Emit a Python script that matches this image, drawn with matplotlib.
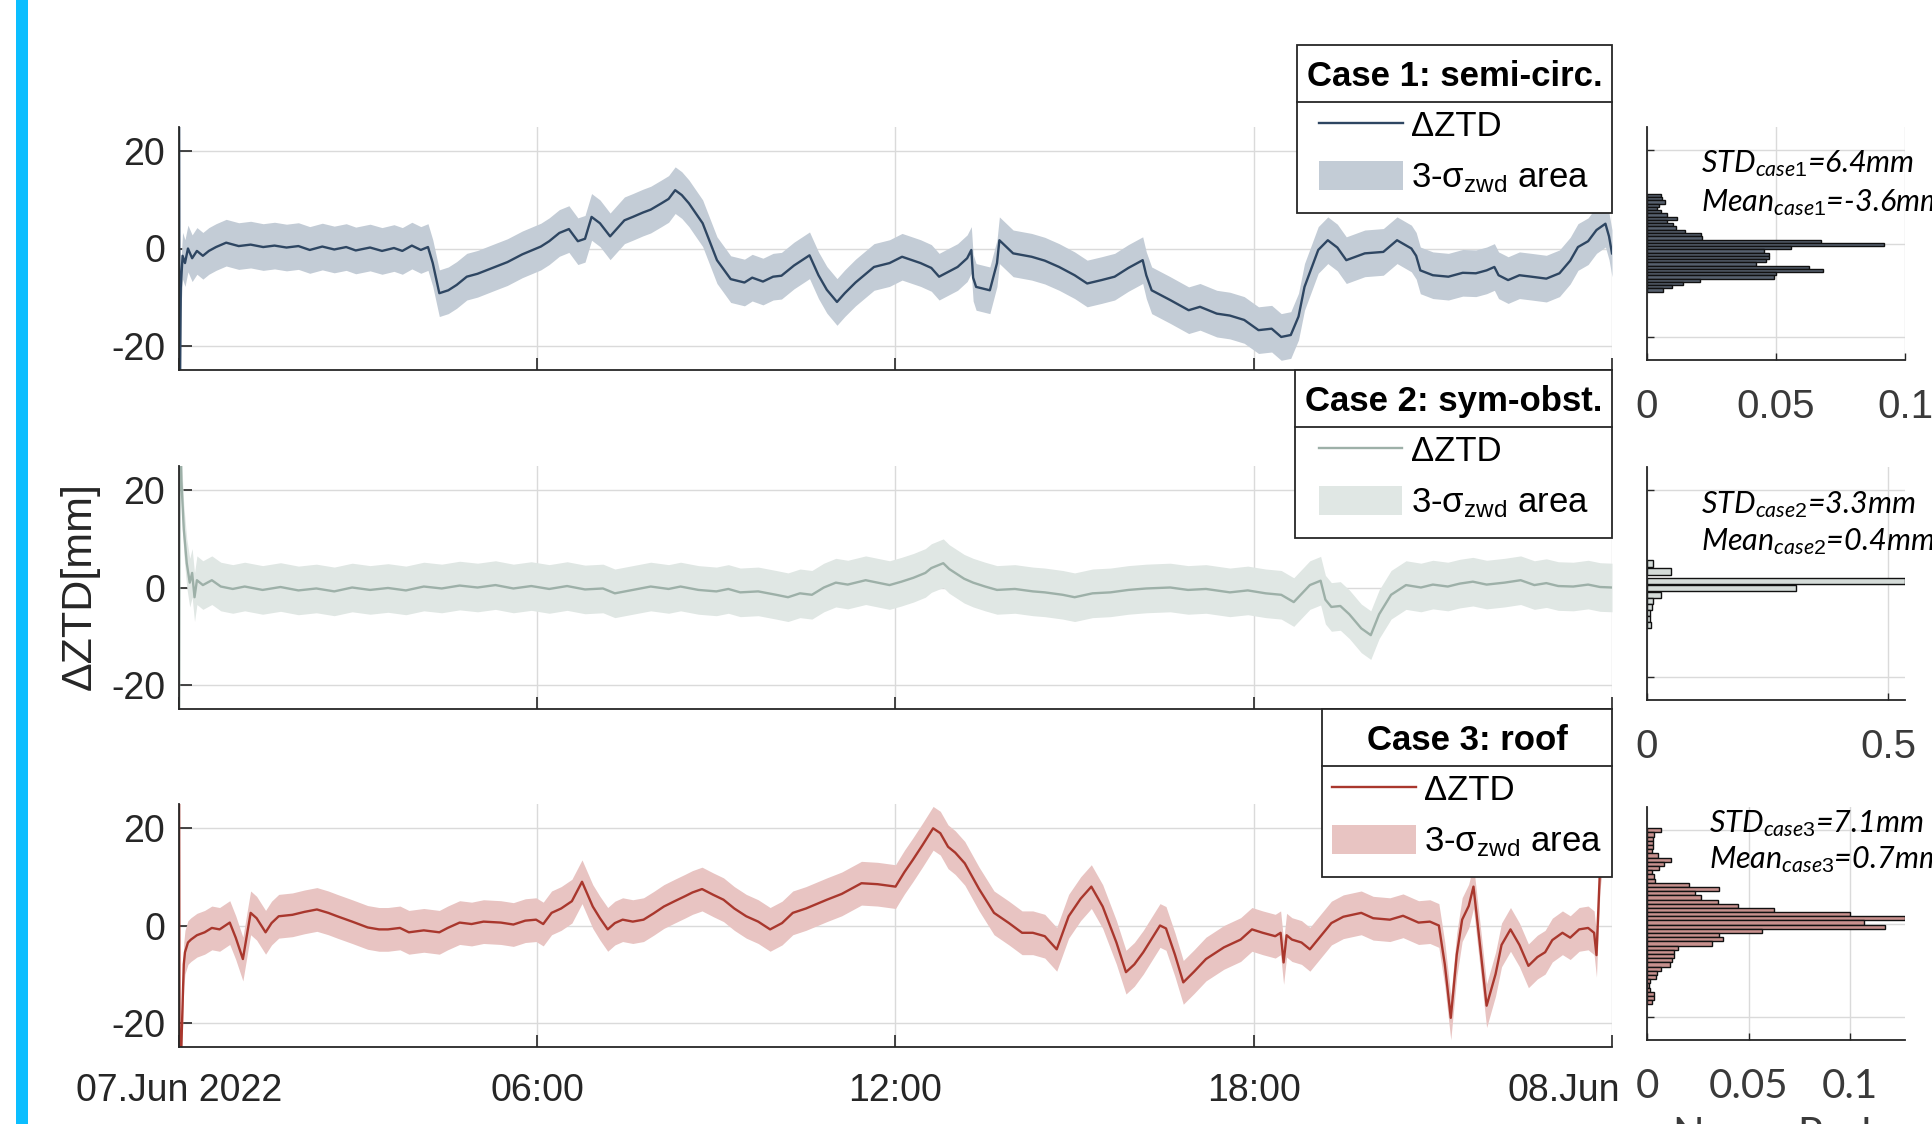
import numpy as np
import matplotlib
matplotlib.use('Agg')
import matplotlib.pyplot as plt
from matplotlib.lines import Line2D
from matplotlib.patches import Rectangle
from matplotlib.transforms import ScaledTranslation

# ---- time series (hours since 07.Jun 2022 00:00, delta ZTD in mm) ----
T1 = [0.0, 0.01, 0.03, 0.06, 0.1, 0.15, 0.22, 0.3, 0.4, 0.5,
      0.62, 0.79, 1.0, 1.2, 1.41, 1.6, 1.8, 2.0, 2.19, 2.4,
      2.6, 2.8, 2.96, 3.2, 3.4, 3.6, 3.74, 3.9, 4.05, 4.17,
      4.25, 4.36, 4.51, 4.65, 4.82, 5.0, 5.29, 5.5, 5.75, 6.06,
      6.2, 6.37, 6.53, 6.68, 6.8, 6.91, 7.05, 7.22, 7.46, 7.6,
      7.77, 7.9, 8.08, 8.2, 8.31, 8.42, 8.54, 8.77, 9.01, 9.24,
      9.47, 9.6, 9.78, 9.95, 10.09, 10.3, 10.56, 10.71, 10.85, 11.02,
      11.15, 11.33, 11.64, 11.9, 12.11, 12.42, 12.6, 12.73, 13.04, 13.2,
      13.27, 13.3, 13.35, 13.58, 13.7, 13.74, 13.97, 14.28, 14.5, 14.74,
      15.0, 15.21, 15.45, 15.67, 15.9, 16.14, 16.2, 16.29, 16.6, 16.91,
      17.1, 17.38, 17.6, 17.84, 18.08, 18.3, 18.46, 18.62, 18.75, 18.85,
      19.08, 19.24, 19.4, 19.55, 19.86, 20.17, 20.4, 20.64, 20.72, 20.79,
      21.0, 21.26, 21.5, 21.72, 21.9, 22.03, 22.1, 22.26, 22.45, 22.65,
      22.9, 23.12, 23.3, 23.43, 23.6, 23.74, 23.89, 23.95, 24.0]
V1 = [40, -40, -8, -1.5, -3, 0, -2, -0.5, -1.5, -0.5,
      0.3, 1.2, 0.5, 0.8, 0.3, 0.6, 0.2, 0.5, -0.3, 0.4,
      -0.2, 0.3, -0.4, 0.2, -0.5, 0.1, -0.5, 0.6, -0.3, 0.3,
      -3, -9.2, -8.6, -7.5, -5.8, -5.2, -3.8, -2.8, -1.2, 0.4,
      1.5, 3.2, 4.0, 1.5, 2.0, 6.5, 5.2, 2.5, 5.8, 6.5,
      7.4, 8.0, 9.3, 10.2, 12.0, 11.0, 9.3, 5.2, -2.4, -6.3,
      -7.0, -6.0, -6.8, -5.8, -5.6, -3.5, -1.4, -5.5, -8.5, -11.0,
      -9.2, -7.0, -3.8, -3.0, -1.7, -3.0, -4.0, -5.8, -3.8, -2.0,
      -0.3, -6.0, -7.9, -8.6, -3.0, 1.7, -1.0, -1.7, -2.5, -3.8,
      -5.5, -7.2, -6.5, -5.8, -4.0, -2.4, -5.5, -8.6, -10.6, -12.7,
      -12.0, -13.4, -13.8, -14.7, -16.8, -16.5, -18.2, -17.8, -14.0, -7.9,
      -0.3, 1.7, 0.2, -2.4, -1.0, -0.7, 1.7, 0.0, -1.5, -4.5,
      -5.5, -5.8, -5.0, -5.1, -4.5, -3.8, -5.5, -6.5, -5.5, -5.8,
      -6.2, -5.1, -2.5, 0.3, 1.5, 3.8, 5.1, 2.5, -1.0]

T2 = [0.0, 0.01, 0.04, 0.08, 0.13, 0.18, 0.22, 0.26, 0.3, 0.4,
      0.55, 0.7, 0.9, 1.1, 1.4, 1.7, 2.0, 2.3, 2.6, 2.9,
      3.2, 3.5, 3.8, 4.1, 4.4, 4.7, 5.0, 5.3, 5.6, 5.9,
      6.2, 6.5, 6.8, 7.1, 7.3, 7.6, 7.9, 8.2, 8.4, 8.7,
      9.0, 9.2, 9.4, 9.7, 10.0, 10.2, 10.4, 10.6, 10.8, 11.0,
      11.2, 11.5, 11.7, 11.9, 12.1, 12.3, 12.5, 12.6, 12.8, 12.9,
      13.0, 13.15, 13.3, 13.5, 13.7, 14.0, 14.3, 14.5, 14.8, 15.0,
      15.3, 15.6, 15.9, 16.2, 16.6, 16.9, 17.2, 17.6, 17.9, 18.2,
      18.46, 18.67, 18.94, 19.12, 19.2, 19.3, 19.45, 19.6, 19.8, 19.96,
      20.1, 20.3, 20.55, 20.8, 21.0, 21.25, 21.45, 21.67, 21.9, 22.2,
      22.47, 22.7, 22.9, 23.1, 23.35, 23.6, 23.8, 24.0]
V2 = [-40, 40, 22, 12, 5, 1, 3, -2, 1.5, 0.5,
      1.5, 0.2, -0.3, 0.2, -0.5, 0.1, -0.6, -0.2, -0.8, 0.0,
      -0.5, -0.1, -0.6, 0.2, -0.2, 0.4, 0.0, 0.5, -0.2, 0.3,
      -0.3, 0.3, -0.4, -0.2, -1.2, -0.5, 0.2, -0.3, 0.2, -0.5,
      -0.8, -0.3, -1.0, -0.8, -1.5, -2.0, -1.2, -1.5, 0.0, 1.0,
      0.6, 1.5, 1.0, 0.5, 1.2, 2.0, 3.0, 4.0, 5.0, 3.8,
      3.0, 1.8, 1.0, 0.2, -0.5, -0.3, -0.8, -1.0, -1.5, -2.0,
      -1.2, -1.0, -0.5, -0.2, 0.0, -0.5, -0.3, -1.0, -0.6, -1.2,
      -1.5, -3.0, 0.5, 1.4, -2.5, -4.0, -3.8, -5.5, -8.4, -9.8,
      -5.5, -1.5, 0.5, 0.0, 0.6, 0.2, 0.8, 1.2, 0.6, 1.0,
      1.5, 0.5, 0.9, 0.3, 0.2, 0.6, 0.1, 0.0]

T3 = [0.0, 0.01, 0.04, 0.08, 0.1, 0.15, 0.2, 0.3, 0.43, 0.55,
      0.68, 0.85, 0.95, 1.07, 1.15, 1.2, 1.3, 1.45, 1.55, 1.67,
      1.9, 2.1, 2.31, 2.5, 2.65, 2.9, 3.16, 3.35, 3.5, 3.7,
      3.85, 4.1, 4.36, 4.5, 4.7, 4.9, 5.1, 5.39, 5.6, 5.8,
      5.98, 6.1, 6.24, 6.4, 6.58, 6.75, 6.93, 7.05, 7.18, 7.3,
      7.43, 7.6, 7.78, 7.95, 8.12, 8.3, 8.47, 8.6, 8.76, 8.95,
      9.12, 9.3, 9.5, 9.7, 9.9, 10.1, 10.28, 10.5, 10.85, 11.1,
      11.43, 11.7, 12.0, 12.15, 12.29, 12.45, 12.63, 12.75, 12.88, 13.0,
      13.16, 13.4, 13.65, 13.9, 14.12, 14.3, 14.5, 14.7, 14.9, 15.1,
      15.28, 15.47, 15.7, 15.86, 16.0, 16.15, 16.43, 16.53, 16.68, 16.82,
      17.0, 17.2, 17.5, 17.78, 17.97, 18.15, 18.36, 18.45, 18.5, 18.55,
      18.64, 18.8, 18.94, 19.1, 19.3, 19.5, 19.8, 20.0, 20.28, 20.5,
      20.76, 20.95, 21.1, 21.2, 21.3, 21.4, 21.49, 21.6, 21.68, 21.78,
      21.9, 22.05, 22.15, 22.3, 22.45, 22.6, 22.75, 22.88, 23.0, 23.17,
      23.3, 23.45, 23.6, 23.7, 23.74, 23.8, 23.9, 24.0]
V3 = [40, -40, -24.6, -8, -5.5, -3.5, -2.9, -2.0, -1.4, -0.5,
      -0.8, 0.6, -2.5, -6.9, -1.0, 2.6, 1.5, -1.4, 0.5, 1.9,
      2.2, 2.8, 3.3, 2.6, 1.9, 0.8, -0.4, -0.8, -0.8, -0.5,
      -1.4, -1.0, -1.4, -0.5, 0.6, 0.3, 0.8, 0.6, 0.2, 1.0,
      1.2, 0.3, 2.6, 3.5, 5.0, 9.0, 3.9, 1.5, -0.8, 0.5,
      1.2, 0.8, 1.2, 2.5, 3.9, 5.0, 6.0, 6.8, 7.5, 6.3,
      5.3, 3.5, 1.9, 0.8, -0.8, 0.5, 2.6, 3.5, 5.3, 6.5,
      8.7, 8.5, 8.0, 11.0, 13.5, 16.5, 20.0, 19.0, 16.2, 15.0,
      12.8, 7.5, 2.6, 0.5, -1.5, -1.5, -2.2, -4.9, 1.9, 5.5,
      8.0, 3.9, -3.5, -9.6, -8.0, -5.5, 0.0, -0.6, -6.0, -11.7,
      -9.5, -6.9, -4.5, -2.9, -0.8, -1.5, -2.2, -1.5, -7.6, -2.0,
      -2.9, -3.5, -4.9, -2.5, 0.5, 1.8, 2.6, 1.5, 1.2, 2.0,
      0.6, 0.8, 0.0, -8.0, -19.0, -6.0, 1.2, 4.0, 8.0, -3.0,
      -16.5, -10.0, -4.0, -0.8, -4.0, -8.3, -6.5, -5.5, -3.0, -1.5,
      -2.5, -0.8, -0.5, -1.5, -6.1, 12.0, 22.0, 30.0]

# 3-sigma half width of the zwd band, per case (mm)
SIG3 = [4.8, 5.0, 4.5]

# ---- histograms (bin centre in mm, normalised probability) ----
H1_CENTERS = [10.3, 9.6, 8.9, 8.2, 7.5, 6.8, 6.1, 5.4, 4.7, 4.0,
              3.3, 2.6, 1.9, 1.2, 0.5, -0.2, -0.9, -1.6, -2.3, -3.0,
              -3.7, -4.4, -5.1, -5.8, -6.5, -7.2, -7.9, -8.6, -9.3, -10.0]
H1_VALUES = [0.0053, 0.0060, 0.0069, 0.0048, 0.0040, 0.0053, 0.0076, 0.0117, 0.0076, 0.0102,
             0.0112, 0.0147, 0.0211, 0.0215, 0.0673, 0.0920, 0.0558, 0.0455, 0.0474, 0.0474,
             0.0461, 0.0423, 0.0628, 0.0682, 0.0500, 0.0493, 0.0204, 0.0140, 0.0095, 0.0063]

H2_CENTERS = [4.3, 2.6, 0.5, -1.0, -2.4, -3.7, -5.0, -6.3, -7.6, -8.9]
H2_VALUES = [0.012, 0.049, 0.535, 0.309, 0.028, 0.013, 0.010, 0.007, 0.006, 0.008]

H3_CENTERS = [20.0, 19.1, 18.2, 17.3, 16.4, 15.5, 14.6, 13.7, 12.8, 11.9,
              11.0, 10.1, 9.2, 8.3, 7.4, 6.5, 5.6, 4.7, 3.8, 2.9,
              2.0, 1.1, 0.2, -0.7, -1.6, -2.5, -3.4, -4.3, -5.2, -6.1,
              -7.0, -7.9, -8.8, -9.7, -10.6, -11.5, -12.4, -13.3, -14.2, -15.1,
              -16.0, -16.9]
H3_VALUES = [0.0069, 0.0033, 0.0029, 0.0029, 0.0029, 0.0024, 0.0052, 0.0118, 0.0085, 0.0057,
             0.0024, 0.0036, 0.0041, 0.0205, 0.0356, 0.0238, 0.0266, 0.0348, 0.0446, 0.0624,
             0.1001, 0.1272, 0.1067, 0.1174, 0.0567, 0.0356, 0.0374, 0.0320, 0.0151, 0.0135,
             0.0131, 0.0123, 0.0115, 0.0069, 0.0049, 0.0046, 0.0013, 0.0008, 0.0016, 0.0033,
             0.0033, 0.0024]

CASE_TITLES = ['Case 1: semi-circ.', 'Case 2: sym-obst.', 'Case 3: roof']
STATS = [('case1', '6.4mm', '-3.6mm'), ('case2', '3.3mm', '0.4mm'), ('case3', '7.1mm', '0.7mm')]
XTICK_HOURS = [0, 6, 12, 18, 24]
XTICK_LABELS = ['07.Jun 2022', '06:00', '12:00', '18:00', '08.Jun']

LINE_COLORS = ['#2e4662', '#9db0a8', '#a9372d']
BAND_COLORS = ['#c3ccd6', '#e0e7e4', '#e8c4c2']
BAR_COLORS = ['#56606e', '#d4dbd8', '#c8918e']

plt.rcParams['font.family'] = ['Liberation Sans', 'DejaVu Sans']
plt.rcParams['axes.unicode_minus'] = False
plt.rcParams['mathtext.fontset'] = 'custom'
plt.rcParams['mathtext.sf'] = 'Liberation Sans'
plt.rcParams['mathtext.rm'] = 'Liberation Sans'
plt.rcParams['mathtext.it'] = 'Lato:italic'

DARK = '#262626'
W, H = 1933, 1124


def fx(px):
    return px / W


def fy(py):
    # pixel row from the top -> figure fraction
    return 1 - py / H


def main():
    fig = plt.figure(figsize=(W / 100, H / 100), dpi=100)
    fig.add_artist(Rectangle((fx(16), 0), fx(12), 1, transform=fig.transFigure,
                             color='#0bbeff', lw=0))

    series = [(T1, V1), (T2, V2), (T3, V3)]
    hists = [(H1_CENTERS, H1_VALUES, 0.7, 0.1, [0, 0.05, 0.1], ['0', '0.05', '0.1']),
             (H2_CENTERS, H2_VALUES, 1.35, 0.535, [0, 0.5], ['0', '0.5']),
             (H3_CENTERS, H3_VALUES, 0.9, 0.127, [0, 0.05, 0.1], ['0', '0.05', '0.1'])]
    tops = [127, 466, 804]
    htops = [127, 467, 807]
    top_pad = 5
    leg_tops = [45 + top_pad, 370 + top_pad, 709 + top_pad]
    stat_pos = [(0.209, 0.807, 0.639), (0.209, 0.803, 0.644), (0.24, 0.893, 0.738)]

    legends = []
    axes = []
    for i in range(3):
        t = np.array(series[i][0])
        v = np.array(series[i][1])
        ax = fig.add_axes([fx(179), fy(tops[i] + 243), fx(1612 - 179), 243 / H])
        band = ax.fill_between(t, v - SIG3[i], v + SIG3[i], color=BAND_COLORS[i], lw=0)
        line, = ax.plot(t, v, color=LINE_COLORS[i], lw=1.7)
        ax.set_xlim(0, 24)
        ax.set_ylim(-25, 25)
        ax.set_yticks([-20, 0, 20])
        ax.set_xticks(XTICK_HOURS)
        ax.grid(True, color='#dadada', lw=1.0)
        ax.set_axisbelow(True)
        for s in ['top', 'right']:
            ax.spines[s].set_visible(False)
        for s in ['left', 'bottom']:
            ax.spines[s].set_color(DARK)
            ax.spines[s].set_linewidth(1.3)
        ax.tick_params(direction='in', length=9, width=1.2, colors=DARK,
                       labelsize=27, pad=10)
        ax.tick_params(axis='x', pad=19)
        if i < 2:
            ax.tick_params(axis='x', labelbottom=False)
        else:
            ax.set_xticklabels(XTICK_LABELS)
            last = ax.get_xticklabels()[-1]
            last.set_ha('right')
            last.set_transform(last.get_transform() +
                               ScaledTranslation(0.08, 0, fig.dpi_scale_trans))

        # frame is drawn by hand below (MATLAB boxed title)
        leg = ax.legend([line, band], ['ΔZTD', '3-σ$_{\\mathsf{zwd}}$ area'],
                        title=CASE_TITLES[i], loc='upper right',
                        bbox_to_anchor=(fx(1612), fy(leg_tops[i])),
                        bbox_transform=fig.transFigure, fontsize=25,
                        title_fontproperties={'weight': 'bold', 'size': 25},
                        frameon=False, borderpad=0.28, labelspacing=0.5,
                        handlelength=2.4, handleheight=0.9, handletextpad=0.25,
                        borderaxespad=0)
        legends.append(leg)
        axes.append(ax)

        # histogram on the right
        centers, vals, hgt, xmax, xt, xtl = hists[i]
        hx = fig.add_axes([fx(1647), fy(htops[i] + 233), fx(1905 - 1647), 233 / H])
        hx.barh(centers, vals, height=hgt, color=BAR_COLORS[i],
                edgecolor='#111111', lw=1.0)
        hx.set_xlim(0, xmax)
        hx.set_ylim(-25, 25)
        hx.set_yticks([-20, 0, 20])
        hx.set_yticklabels([])
        hx.set_xticks(xt)
        hx.grid(True, color='#dadada', lw=1.0)
        hx.set_axisbelow(True)
        for s in ['top', 'right']:
            hx.spines[s].set_visible(False)
        for s in ['left', 'bottom']:
            hx.spines[s].set_color(DARK)
            hx.spines[s].set_linewidth(1.3)
        hx.tick_params(direction='in', length=5, width=1.0, colors=DARK)
        if i < 2:
            hx.set_xticklabels(xtl, fontsize=29, color='#3a3a3a')
        else:
            hx.set_xticklabels(xtl, fontsize=29, color='#3a3a3a', family='Lato')
        hx.tick_params(axis='x', pad=20)

        sub, std, mean = STATS[i]
        sx, sy1, sy2 = stat_pos[i]
        hx.text(sx, sy1, 'STD$_{\\mathit{%s}}$=%s' % (sub, std), transform=hx.transAxes,
                family='Lato', style='italic', fontsize=22, va='baseline', clip_on=False)
        hx.text(sx, sy2, 'Mean$_{\\mathit{%s}}$=%s' % (sub, mean), transform=hx.transAxes,
                family='Lato', style='italic', fontsize=22, va='baseline', clip_on=False)

    fig.text(fx(80), fy(586), 'ΔZTD[mm]', rotation=90, ha='center', va='center',
             fontsize=31, color=DARK)
    fig.text(fx(1673), fy(1117), 'Norm. Prob.', ha='left', va='top', fontsize=30,
             family='Lato', color='#3a3a3a')

    # legend boxes: frame with extra room top and bottom and a line under the title
    fig.canvas.draw()
    r = fig.canvas.get_renderer()
    inv = fig.transFigure.inverted()
    extra = 9
    for ax, leg in zip(axes, legends):
        lb = leg.get_window_extent(r)
        tb = leg.get_title().get_window_extent(r)
        eb = leg.get_texts()[0].get_window_extent(r)
        (x0, y0), (x1, y1) = inv.transform([(lb.x0, lb.y0 - extra),
                                            (lb.x1, lb.y1 + top_pad)])
        ax.add_patch(Rectangle((x0, y0), x1 - x0, y1 - y0, transform=fig.transFigure,
                               facecolor='white', edgecolor=DARK, lw=1.3,
                               zorder=4.9, clip_on=False))
        ysep = 0.5 * (tb.y0 + eb.y1)
        (sx0, sy), (sx1, _) = inv.transform([(lb.x0, ysep), (lb.x1, ysep)])
        fig.add_artist(Line2D([sx0, sx1], [sy, sy], transform=fig.transFigure,
                              color=DARK, lw=1.3))

    fig.savefig('out.png', dpi=100, facecolor='white')


if __name__ == '__main__':
    main()
